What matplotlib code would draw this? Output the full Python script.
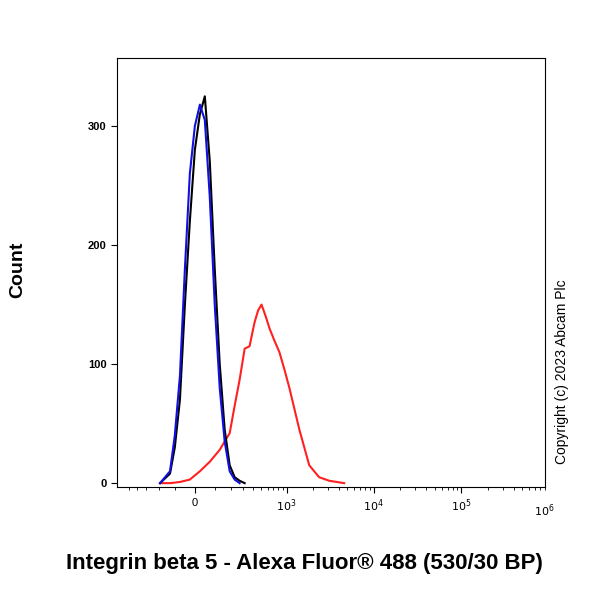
import numpy as np
import matplotlib
matplotlib.use('Agg')
import matplotlib.pyplot as plt

plt.rcParams['font.family'] = ['Liberation Sans', 'DejaVu Sans']

W = 181.0

def fwd(x):
    return np.arcsinh(np.asarray(x, dtype=float) / W)

def inv(y):
    return W * np.sinh(np.asarray(y, dtype=float))

# histogram curves (fluorescence, count)
blue_x = [-190, -127, -100, -73, -48, -24, 0, 24, 48, 73, 99, 127, 157, 190, 226, 266]
blue_y = [0, 10, 40, 90, 180, 260, 300, 318, 305, 240, 150, 80, 35, 10, 3, 0]
black_x = [-190, -127, -100, -73, -48, -24, 0, 24, 48, 73, 99, 127, 157, 190, 226, 266, 311]
black_y = [0, 8, 30, 70, 150, 220, 280, 310, 325, 270, 180, 100, 45, 15, 5, 2, 0]
red_x = [-190, -127, -73, -24, 24, 73, 127, 190, 226, 266, 311, 360, 416, 460, 507, 570, 632, 720, 827, 950, 1080, 1408, 1830, 2375, 3100, 4600]
red_y = [0, 0, 1, 3, 10, 18, 28, 42, 65, 87, 113, 115, 135, 145, 150, 140, 130, 120, 110, 95, 80, 45, 15, 5, 2, 0]

fig = plt.figure(figsize=(6, 6), dpi=100)
ax = fig.add_axes([0.195, 0.188, 0.713, 0.715])
ax.set_xscale('function', functions=(fwd, inv))
ax.plot(red_x, red_y, color='#ff2020', lw=1.5)
ax.plot(black_x, black_y, color='black', lw=1.5)
ax.plot(blue_x, blue_y, color='#1010e0', lw=1.5)

ax.set_xlim(-690, 8.6e5)
ax.set_ylim(-3.4, 357)

major = [0, 1e3, 1e4, 1e5, 1e6]
ax.set_xticks(major[:-1])
ax.set_xticklabels(['0', r'$10^3$', r'$10^4$', r'$10^5$'], fontsize=8)
minor = [-500, -400, -300, -200, -100] + [k * 100 for k in range(1, 10)]
for d in [1e3, 1e4, 1e5]:
    minor += [k * d for k in range(2, 10)]
ax.set_xticks(minor, minor=True)
ax.text(1.0, -0.035, r'$10^6$', transform=ax.transAxes, ha='center', va='top', fontsize=8)
ax.set_yticks([0, 100, 200, 300])
ax.set_yticklabels(['0', '100', '200', '300'], fontsize=8, fontweight='bold')
ax.tick_params(axis='both', which='major', length=4)
ax.tick_params(axis='x', which='minor', length=2)

fig.text(0.03, 0.55, 'Count', rotation=90, fontsize=14, fontweight='bold', va='center', ha='center')
fig.text(0.508, 0.06, 'Integrin beta 5 - Alexa Fluor\u00ae 488 (530/30 BP)', fontsize=16,
         fontweight='bold', ha='center', va='center')
fig.text(0.937, 0.38, 'Copyright (c) 2023 Abcam Plc', rotation=90, fontsize=10, va='center', ha='center')

fig.savefig('out.png')
